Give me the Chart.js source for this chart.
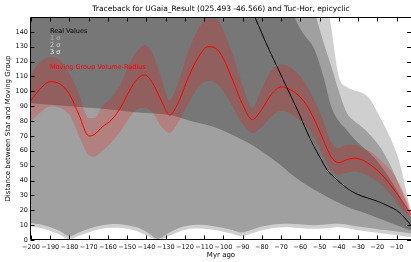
<!DOCTYPE html>
<html>
<head>
<meta charset="utf-8">
<script src="https://cdn.jsdelivr.net/npm/chart.js@4.4.1/dist/chart.umd.min.js"></script>
<style>
  html, body { margin: 0; padding: 0; background: #fff; }
  canvas { display: block; }
</style>
</head>
<body>
<canvas id="traceChart" width="411" height="262"></canvas>
<script>
// griglia comune delle bande sigma (Myr)
const sigX = [-200,-195,-190,-185,-180,-175,-170,-165,-160,-155,-150,-145,-140,-134,-128,-122,-117,-112,-106,-100,
  -95,-91,-86,-80,-74,-68,-63,-58,-53,-48,-44,-40,-36,-32,-28,-24,-20,-16,-12,-8,-5,-2.5];
// limiti superiori (fuori grafico a sinistra)
const up3 = [300,300,300,300,300,300,300,300,300,300,300,300,300,300,300,300,300,300,300,300,
  300,300,300,300,300,300,300,300,220,175,143,110,103,100.5,99,95,86,76,65,50,33,18];
const up2 = [300,300,300,300,300,300,300,300,300,300,300,300,300,300,300,300,300,300,300,300,
  300,300,300,300,300,300,200,175,155,133,117,100,86,80,76,71,65,57,47,35,26,16.5];
const up1 = [300,300,300,300,300,300,300,300,300,300,300,300,300,300,300,300,300,300,300,300,
  300,300,300,300,200,172,150,138,129,110,90,80,74,68,63,58.5,53,46,38,29,21,15];
// limiti inferiori
const lo1 = [92,91.5,91,90.5,90,89.5,89,88.5,88,87.3,86.5,86,85.5,85,84,82,80,78.5,76.5,73.5,
  70.5,68,64.5,59.5,54,48,42.5,38,34,30.5,27.5,25,22.5,20.5,18.8,17,15,13,11,9,7.5,6.5];
const lo2 = [11.5,10.5,8.5,6,2.5,5,7.5,9.5,10.5,10.8,10,8.5,5.5,0.8,5,8.5,10,10.2,9.5,8,
  6.5,5,6.5,9,10.5,11,10.8,10.3,10,10.3,10.8,11,10.5,9.5,8.8,8,7.3,6.7,6,5.3,4.8,4.3];
const lo3 = [9,8,6,3.5,0.3,2.8,5.2,7,8,8.3,7.6,6,3,0,2.8,6,7.6,7.8,7,5.5,
  4,2.5,4,6.5,8,8.5,8.3,7.8,7.5,7.8,8.3,8.5,8,7,6.2,5.5,4.8,4.2,3.5,2.8,2.3,1.8];

// raggio del gruppo in movimento
const redX = [-200,-195,-190,-185,-180,-175,-170,-167,-163,-158,-153,-149,-145,-141,-137,-132,-128,-124,-118,-113,
  -108,-104,-100,-95,-90,-85,-80,-75,-70,-65,-60,-56,-52,-48,-44,-40,-36,-32,-28,-22,-17,-12,-7,-2.5];
const redY = [94,102,106.5,105,98,84,70,71,76,81,90,100,108,111,106,93,84,91,110,123,
  130,129,122,107,91,81,88,98,103,101,96,89,79,67,56,52,54,55,54,49,43,35,26,17];
const redUp = [112,120,123,121,112,98,82,82,90,96,106,118,127,131,126,108,94,104,128,142,
  150,149,141,124,104,89,102,114,118,116,110,102,92,80,66,62,64,64,62,58,52,45,34,20];
const redLo = [80,86,90,89,84,70,57,56,60,66,74,82,88,89,86,76,72,78,92,103,
  107,106,100,89,78,72,76,83,87,85,80,75,67,56,47,44,45,46,45,41,36,29,20,15];

// valori reali (linea nera)
const realX = [-100,-90,-83,-78,-73,-69,-65,-61,-57,-53,-50,-46,-41,-37,-33,-28,-22,-17,-13,-10,-7,-4.5,-2.5];
const realY = [200,167,148,133,119,108,97,86,74,63,56,47,40.5,36,32.5,29.5,27,24.5,22,20,16.5,13,10];

const xTicks = [-200,-190,-180,-170,-160,-150,-140,-130,-120,-110,-100,-90,-80,-70,-60,-50,-40,-30,-20,-10];
const yTicks = [0,10,20,30,40,50,60,70,80,90,100,110,120,130,140];

const titleText = 'Traceback for UGaia_Result (025.493 -46.566) and Tuc-Hor, epicyclic';
const FONT = '"DejaVu Sans", sans-serif';

const pts = (xs, ys) => xs.map((x, i) => ({ x, y: ys[i] }));
const band = (data, color, fill) => ({
  data, fill, backgroundColor: color,
  borderColor: 'transparent', borderWidth: 0, pointRadius: 0
});
const minus = v => String(v).replace('-', '\u2212');

// cornice, tacche interne e testi
const decor = {
  id: 'decor',
  afterDraw(chart) {
    const { ctx, chartArea: a, scales: { x, y } } = chart;
    ctx.save();
    ctx.strokeStyle = '#000';
    ctx.lineWidth = 1;
    const L = Math.round(a.left) - 0.5, T = Math.round(a.top) + 0.5, B = Math.round(a.bottom) - 0.5;
    ctx.beginPath();
    ctx.moveTo(L, T); ctx.lineTo(a.right, T);
    ctx.moveTo(L, T); ctx.lineTo(L, B); ctx.lineTo(a.right, B);
    xTicks.forEach(v => {
      const px = Math.round(x.getPixelForValue(v)) + 0.5;
      ctx.moveTo(px, B); ctx.lineTo(px, B - 4);
      ctx.moveTo(px, T); ctx.lineTo(px, T + 4);
    });
    yTicks.forEach(v => {
      const py = Math.round(y.getPixelForValue(v)) + 0.5;
      ctx.moveTo(L, py); ctx.lineTo(L + 4, py);
      ctx.moveTo(a.right, py); ctx.lineTo(a.right - 4, py);
    });
    ctx.stroke();

    ctx.fillStyle = '#000';
    ctx.textAlign = 'center';
    ctx.textBaseline = 'middle';
    ctx.font = '7.5px ' + FONT;
    ctx.fillText(titleText, (a.left + a.right) / 2, 9);
    ctx.font = '7px ' + FONT;
    ctx.fillText('Myr ago', (a.left + a.right) / 2, 255);
    ctx.save();
    ctx.translate(8, (a.top + a.bottom) / 2);
    ctx.rotate(-Math.PI / 2);
    ctx.fillText('Distance between Star and Moving Group', 0, 0);
    ctx.restore();

    // legenda
    ctx.textAlign = 'left';
    ctx.font = '6.5px ' + FONT;
    const lx = a.left + 19;
    ctx.fillStyle = '#000';
    ctx.fillText('Real Values', lx, 31);
    ctx.fillStyle = '#b4b4b4';
    ctx.fillText('1 \u03c3', lx, 38.5);
    ctx.fillStyle = '#d2d2d2';
    ctx.fillText('2 \u03c3', lx, 45.7);
    ctx.fillStyle = '#f2f2f2';
    ctx.fillText('3 \u03c3', lx, 52.8);
    ctx.fillStyle = '#ff0000';
    ctx.fillText('Moving Group Volume-Radius', lx, 67.8);
    ctx.restore();
  }
};

const ctx = document.getElementById('traceChart').getContext('2d');
new Chart(ctx, {
  type: 'line',
  data: {
    datasets: [
      { data: pts(realX, realY), borderColor: '#000', borderWidth: 1, pointRadius: 0, fill: false },
      { data: pts(redX, redY), borderColor: '#ff0000', borderWidth: 1, pointRadius: 0, fill: false },
      band(pts(redX, redUp), 'rgba(255,0,0,0.2)', '+1'),
      band(pts(redX, redLo), 'transparent', false),
      band(pts(sigX, up1), '#777777', '+1'),
      band(pts(sigX, lo1), 'transparent', false),
      band(pts(sigX, up2), '#a0a0a0', '+1'),
      band(pts(sigX, lo2), 'transparent', false),
      band(pts(sigX, up3), '#cfcfcf', '+1'),
      band(pts(sigX, lo3), 'transparent', false)
    ]
  },
  options: {
    responsive: false,
    animation: false,
    devicePixelRatio: 1,
    layout: { padding: { top: 17, right: 0, left: 0, bottom: 0 } },
    elements: { line: { cubicInterpolationMode: 'monotone' } },
    plugins: { legend: { display: false }, tooltip: { enabled: false }, title: { display: false } },
    scales: {
      x: {
        type: 'linear', min: -200, max: -2.5,
        grid: { display: false, drawTicks: false },
        border: { display: false },
        afterBuildTicks: s => { s.ticks = xTicks.map(v => ({ value: v })); },
        afterFit: s => { s.height = 22; },
        ticks: {
          autoSkip: false, maxRotation: 0, padding: 3, color: '#111',
          font: { family: FONT, size: 6.5 },
          callback: v => minus(v)
        }
      },
      y: {
        min: 0, max: 150,
        grid: { display: false, drawTicks: false },
        border: { display: false },
        afterBuildTicks: s => { s.ticks = yTicks.map(v => ({ value: v })); },
        afterFit: s => { s.width = 31; },
        ticks: {
          padding: 3, color: '#111',
          font: { family: FONT, size: 6.5 }
        }
      }
    }
  },
  plugins: [decor]
});
</script>
</body>
</html>
